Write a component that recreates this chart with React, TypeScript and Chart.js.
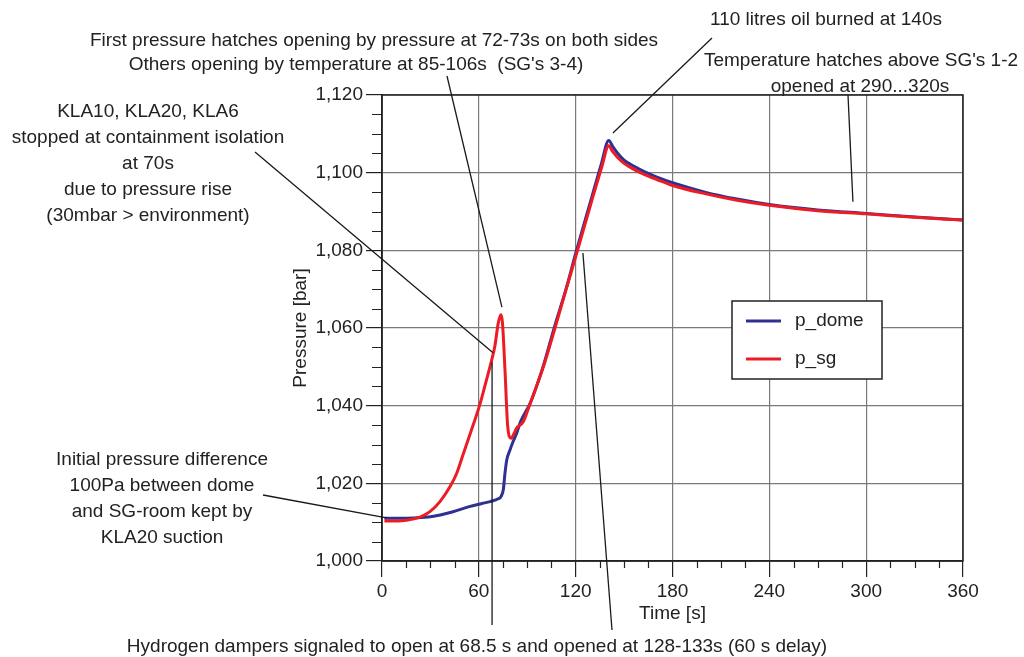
import React, { useEffect, useRef } from 'react';
import { Chart, registerables } from 'chart.js';

Chart.register(...registerables);

// ---------- data ----------
const timeDome = [1.5, 10, 20, 30, 44, 54, 62, 67, 72, 74, 75.2, 76.2, 77.3, 79.3, 81, 83.5, 86, 92, 100, 107, 114, 120, 130, 136, 140.5, 143, 146, 150, 155, 160, 165, 170, 180, 200, 220, 240, 270, 300, 330, 360];
const pDome = [1011, 1011, 1011.1, 1011.4, 1012.7, 1014, 1014.8, 1015.3, 1016, 1016.8, 1018.5, 1022.6, 1026, 1028.6, 1030.5, 1033, 1036, 1040.8, 1050.3, 1060.5, 1070, 1079.2, 1093.7, 1102.4, 1108.3, 1106.7, 1105, 1103.2, 1101.9, 1100.8, 1099.8, 1098.9, 1097.4, 1095, 1093.2, 1091.8, 1090.4, 1089.5, 1088.6, 1087.8];

const timeSg = [1.5, 10, 15, 23.5, 29.7, 35.9, 42.1, 46.3, 50.4, 55, 60.7, 64, 68, 70, 72, 73.7, 74.6, 76.2, 77.9, 80, 82, 83.4, 87.6, 91.3, 100, 107.2, 114, 120, 130, 136, 140.5, 143, 146, 150, 155, 160, 165, 170, 180, 200, 220, 240, 270, 300, 330, 360];
const pSg = [1010.3, 1010.3, 1010.5, 1011.3, 1012.7, 1015.3, 1019.1, 1022.6, 1027.6, 1033.2, 1040.4, 1045.5, 1051.8, 1055.5, 1061.2, 1063.4, 1061.5, 1049.2, 1034.6, 1031.6, 1033, 1034.2, 1035.9, 1040, 1050, 1060, 1069.8, 1078.3, 1092.8, 1101.2, 1106.9, 1105.4, 1103.9, 1102.4, 1101.1, 1100, 1099.1, 1098.3, 1096.7, 1094.6, 1092.9, 1091.6, 1090.2, 1089.4, 1088.5, 1087.8];

const xMin = 0;
const xMax = 360;
const xStep = 60;
const xMinorStep = 15;
const yMin = 1000;
const yMax = 1120;
const yStep = 20;
const yMinorStep = 5;

const seriesNames = ['p_dome', 'p_sg'];
const xTitle = 'Time [s]';
const yTitle = 'Pressure [bar]';

const noteHatches = ['First pressure hatches opening by pressure at 72-73s on both sides', "Others opening by temperature at 85-106s  (SG's 3-4)"];
const noteOil = ['110 litres oil burned at 140s'];
const noteTemp = ["Temperature hatches above SG's 1-2", 'opened at 290...320s'];
const noteKla = ['KLA10, KLA20, KLA6', 'stopped at containment isolation', 'at 70s', 'due to pressure rise', '(30mbar > environment)'];
const noteInitial = ['Initial pressure difference', '100Pa between dome', 'and SG-room kept by', 'KLA20 suction'];
const noteHydrogen = ['Hydrogen dampers signaled to open at 68.5 s and opened at 128-133s (60 s delay)'];

// ---------- styles ----------
const BLUE = '#2E3192';
const RED = '#ED1C24';
const INK = '#222222';
const GRID = '#7a7a7a';
const FONT = '"Liberation Sans", Arial, Helvetica, sans-serif';
const FS = 19;

const decorPlugin = {
  id: 'decor',
  afterDraw(chart: any) {
    const { ctx, chartArea: a, scales } = chart;
    const xs = scales.x;
    const ys = scales.y;
    const X = (v: number) => xs.getPixelForValue(v);
    const Y = (v: number) => ys.getPixelForValue(v);
    ctx.save();

    // frame
    ctx.strokeStyle = INK;
    ctx.lineWidth = 1.5;
    ctx.strokeRect(a.left, a.top, a.right - a.left, a.bottom - a.top);

    // minor ticks
    ctx.lineWidth = 1.2;
    ctx.beginPath();
    for (let v = yMin; v <= yMax; v += yMinorStep) {
      if ((v - yMin) % yStep === 0) continue;
      const py = Math.round(Y(v)) + 0.5;
      ctx.moveTo(a.left - 10, py);
      ctx.lineTo(a.left, py);
    }
    for (let t = xMin; t <= xMax; t += xMinorStep) {
      if ((t - xMin) % xStep === 0) continue;
      const px = Math.round(X(t)) + 0.5;
      ctx.moveTo(px, a.bottom);
      ctx.lineTo(px, a.bottom + 7);
    }
    ctx.stroke();

    // legend
    const lx = 732, ly = 301, lw = 150, lh = 78;
    ctx.fillStyle = '#ffffff';
    ctx.fillRect(lx, ly, lw, lh);
    ctx.strokeStyle = INK;
    ctx.lineWidth = 1.5;
    ctx.strokeRect(lx, ly, lw, lh);
    const legendColors = [BLUE, RED];
    seriesNames.forEach((name, i) => {
      const yy = ly + 20 + i * 38;
      ctx.strokeStyle = legendColors[i];
      ctx.lineWidth = 3;
      ctx.beginPath();
      ctx.moveTo(lx + 14, yy);
      ctx.lineTo(lx + 49, yy);
      ctx.stroke();
      ctx.fillStyle = INK;
      ctx.font = `${FS}px ${FONT}`;
      ctx.textAlign = 'left';
      ctx.textBaseline = 'middle';
      ctx.fillText(name, lx + 63, yy);
    });

    // annotation lines
    ctx.strokeStyle = '#1a1a1a';
    ctx.lineWidth = 1.3;
    const seg = (x1: number, y1: number, x2: number, y2: number) => {
      ctx.beginPath();
      ctx.moveTo(x1, y1);
      ctx.lineTo(x2, y2);
      ctx.stroke();
    };
    seg(255, 152, X(68.8), Y(1053.6)); // KLA
    seg(447, 76, X(74.3), Y(1065.4)); // first hatches
    seg(712, 38, X(143.1), Y(1110.2)); // oil
    seg(848, 95, X(291.8), Y(1092.5)); // temperature hatches
    seg(263, 495, X(2.8), Y(1011.1)); // initial difference
    seg(X(68.2), 625, X(68.2), Y(1051.2)); // hydrogen signal
    seg(612, 630, X(124.5), Y(1079.3)); // hydrogen opened

    // annotation texts
    ctx.fillStyle = INK;
    ctx.font = `${FS}px ${FONT}`;
    ctx.textAlign = 'center';
    ctx.textBaseline = 'middle';
    const block = (lines: string[], cx: number, cy: number, lh2: number) => {
      lines.forEach((s, i) => ctx.fillText(s, cx, cy + i * lh2));
    };
    block([noteHatches[0]], 374, 41, 0);
    block([noteHatches[1]], 356, 65, 0);
    block(noteOil, 826, 20, 0);
    block([noteTemp[0]], 861, 61, 0);
    block([noteTemp[1]], 860, 87, 0);
    block(noteKla, 148, 112, 26);
    block(noteInitial, 162, 460, 25.8);
    block(noteHydrogen, 477, 647, 0);

    ctx.restore();
  },
};

export default function App() {
  const ref = useRef<HTMLCanvasElement | null>(null);

  useEffect(() => {
    if (!ref.current) return;
    Chart.defaults.font.family = FONT;
    Chart.defaults.font.size = FS;
    Chart.defaults.color = INK;

    const chart = new Chart(ref.current, {
      type: 'line',
      data: {
        datasets: [
          {
            label: seriesNames[0],
            data: timeDome.map((t, i) => ({ x: t, y: pDome[i] })),
            borderColor: BLUE,
            backgroundColor: BLUE,
            borderWidth: 3,
            pointRadius: 0,
            cubicInterpolationMode: 'monotone',
            order: 2,
          },
          {
            label: seriesNames[1],
            data: timeSg.map((t, i) => ({ x: t, y: pSg[i] })),
            borderColor: RED,
            backgroundColor: RED,
            borderWidth: 3,
            pointRadius: 0,
            cubicInterpolationMode: 'monotone',
            order: 1,
          },
        ],
      },
      options: {
        responsive: false,
        animation: false,
        devicePixelRatio: 1,
        layout: { padding: { left: 285, right: 61, top: 95, bottom: 28 } },
        plugins: {
          legend: { display: false },
          tooltip: { enabled: false },
        },
        scales: {
          x: {
            type: 'linear',
            min: xMin,
            max: xMax,
            afterFit: (s: any) => { s.height = 68; },
            ticks: { stepSize: xStep, padding: 3, color: INK, font: { size: FS, family: FONT } },
            grid: { color: GRID, lineWidth: 1.2, tickLength: 16, tickColor: INK, tickWidth: 1.2 },
            border: { color: INK, width: 1.5 },
            title: { display: true, text: xTitle, color: INK, font: { size: FS, family: FONT } },
          },
          y: {
            type: 'linear',
            min: yMin,
            max: yMax,
            afterFit: (s: any) => { s.width = 97; },
            ticks: {
              stepSize: yStep,
              padding: 3,
              color: INK,
              font: { size: FS, family: FONT },
              callback: (v: any) => Number(v).toLocaleString('en-US'),
            },
            grid: { color: GRID, lineWidth: 1.2, tickLength: 16, tickColor: INK, tickWidth: 1.2 },
            border: { color: INK, width: 1.5 },
            title: { display: true, text: yTitle, color: INK, font: { size: FS, family: FONT } },
          },
        },
      },
      plugins: [decorPlugin],
    } as any);

    return () => chart.destroy();
  }, []);

  return (
    <div style={{ position: 'absolute', left: 0, top: 0, width: 1024, height: 657, background: '#fff' }}>
      <canvas ref={ref} width={1024} height={657} style={{ display: 'block' }} />
    </div>
  );
}
